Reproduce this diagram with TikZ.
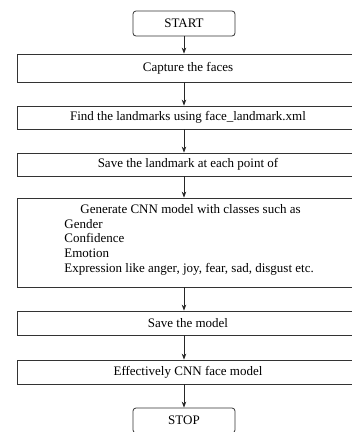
\documentclass[tikz,border=0pt]{standalone}
\usepackage{fontspec}
\setmainfont{Liberation Serif}
\usetikzlibrary{arrows.meta}
\begin{document}
\begin{tikzpicture}[x=1pt,y=-1pt,
  base/.style={draw=black!80, line width=0.8pt, inner sep=0pt, font=\fontsize{13}{14.7}\selectfont},
  term/.style={base, rounded corners=3pt, minimum width=102pt, minimum height=25pt},
  proc/.style={base, minimum width=342pt},
  arr/.style={draw=black!85, line width=0.8pt, -{Stealth[length=6pt,width=4.5pt]}}]
\useasboundingbox (0,0) rectangle (352,432);
\fill[white] (0,0) rectangle (352,432);
\node[term] (start) at (184,23.5) {START};
\node[proc, minimum height=28pt] (cap) at (188,68) {Capture the faces};
\node[proc, minimum height=23pt] (find) at (188,117.5) {Find the landmarks using face\_landmark.xml};
\node[proc, minimum height=23pt] (save) at (188,164.5) {Save the landmark at each point of};
\node[proc, minimum height=89pt] (gen) at (188,242.5) {};
\node[base, draw=none, anchor=north west, align=left] (gentext) at (64,204)
  {\hspace*{16pt}Generate CNN model with classes such as\\Gender\\Confidence\\Emotion\\Expression like anger, joy, fear, sad, disgust etc.};
\node[proc, minimum height=24pt] (model) at (188,323) {Save the model};
\node[proc, minimum height=24pt] (eff) at (188,372) {Effectively CNN face model};
\node[term] (stop) at (184,420.5) {STOP};
\draw[arr] (start.south) -- (start.south |- cap.north);
\draw[arr] (start.south |- cap.south) -- (start.south |- find.north);
\draw[arr] (start.south |- find.south) -- (start.south |- save.north);
\draw[arr] (start.south |- save.south) -- (start.south |- gen.north);
\draw[arr] (start.south |- gen.south) -- (start.south |- model.north);
\draw[arr] (start.south |- model.south) -- (start.south |- eff.north);
\draw[arr] (start.south |- eff.south) -- (stop.north);
\end{tikzpicture}
\end{document}
